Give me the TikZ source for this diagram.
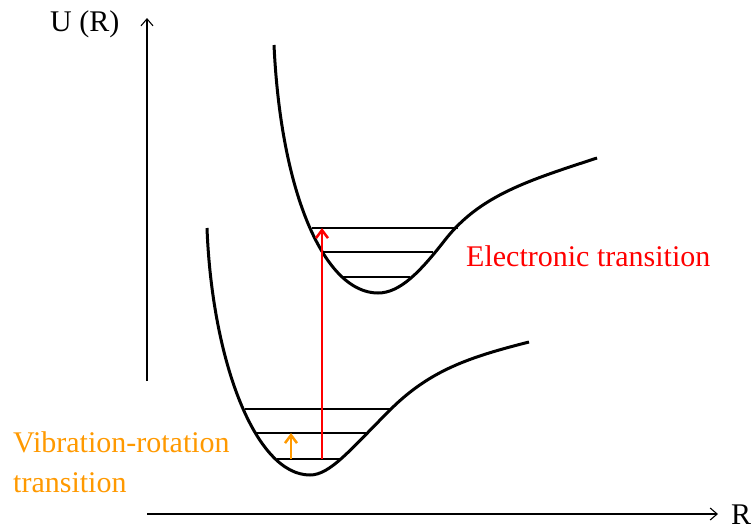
\documentclass[tikz,border=0pt]{standalone}
\usepackage{fontspec}
\setmainfont{Liberation Serif}
\usetikzlibrary{arrows.meta}
\definecolor{vibor}{RGB}{255,153,0}
\definecolor{elred}{RGB}{255,0,0}
\tikzset{
  axis/.style={line width=1.1pt,-{Straight Barb[length=7pt,width=12pt]}},
  curve/.style={line width=3pt,line join=round},
  level/.style={line width=2pt},
  lbl/.style={anchor=base west,inner sep=0pt,font=\fontsize{30}{39}\selectfont},
  trans/.style={line width=2.5pt,-{Straight Barb[length=8pt,width=12pt]}}
}
\begin{document}
\begin{tikzpicture}[x=1pt,y=-1pt]
\useasboundingbox (0,0) rectangle (755,531);
% axes
\coordinate (o) at (147,514);
\coordinate (ytop) at (147,18);
\coordinate (ybot) at (147,381);
\coordinate (xend) at (718,514);
\draw[axis] (ybot) -- (ytop);
\draw[axis] (o) -- (xend);
\node[lbl] (ulabel) at (50,31) {U (R)};
\node[lbl] (rlabel) at (731,524) {R};
% upper potential curve
\draw[curve] (274,45) .. controls (281,195) and (325,293) .. (378,293)
  .. controls (400,293) and (420,272) .. (445,240)
  .. controls (480,195) and (530,180) .. (597,158);
% lower potential curve
\draw[curve] (207,228) .. controls (212,360) and (255,475) .. (310,475)
  .. controls (330,475) and (350,450) .. (390,410)
  .. controls (430,370) and (470,357) .. (529,342);
% upper levels
\draw[level] (312,228) -- (458,228);
\draw[level] (323,252) -- (433,252);
\draw[level] (343,277) -- (410,277);
% lower levels
\draw[level] (245,409) -- (392,409);
\draw[level] (256,433) -- (367,433);
\draw[level] (277,459) -- (341,459);
% transitions
\coordinate (eb) at (322,459);
\coordinate (et) at (322,228);
\coordinate (vb) at (291,459);
\coordinate (vt) at (291,433);
\draw[trans,elred] (eb) -- (et);
\draw[trans,vibor] (vb) -- (vt);
\node[lbl,text=elred] (elabel) at (466,266) {Electronic transition};
\node[lbl,text=vibor] (vlabel1) at (13,452) {Vibration-rotation};
\node[lbl,text=vibor] (vlabel2) at (13,492) {transition};
\end{tikzpicture}
\end{document}
